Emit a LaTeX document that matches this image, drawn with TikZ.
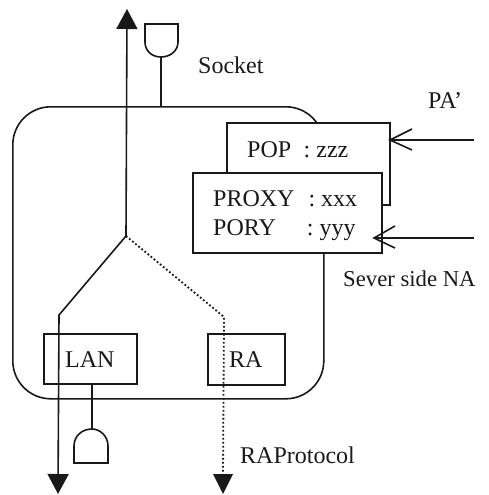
\documentclass[tikz,border=0pt]{standalone}
\usepackage{fontspec}
\setmainfont{Liberation Serif}
\usetikzlibrary{arrows.meta,calc}
\tikzset{
  ln/.style={line width=1.6pt,black!90,line join=miter},
  boxx/.style={ln,draw,fill=white,rectangle,inner sep=0pt},
  lbl/.style={font=\fontsize{24}{24}\selectfont,anchor=base west,inner sep=0pt,text=black!90},
  solidtip/.style={-{Triangle[length=20pt,width=21pt]}},
  dots/.style={line width=1.8pt,black!90,dash pattern=on 1.8pt off 2.2pt}
}
\begin{document}
\begin{tikzpicture}[x=1pt,y=-1pt]
\useasboundingbox (0,0) rectangle (488,495);
% host outline
\node[ln,draw,rectangle,rounded corners=38pt,minimum width=311pt,minimum height=292pt,anchor=north west,inner sep=0pt] (host) at (12,106) {};
% connection boxes
\node[boxx,minimum width=163pt,minimum height=82pt,anchor=north west] (pop) at (226,122) {};
\node[boxx,minimum width=189pt,minimum height=80pt,anchor=north west] (proxy) at (192,172) {};
\node[boxx,minimum width=93pt,minimum height=50pt,anchor=north west] (lan) at (43,333) {};
\node[boxx,minimum width=77pt,minimum height=51pt,anchor=north west] (ra) at (207,333) {};
% labels
\node[lbl] (tsock) at (198,74) {Socket};
\node[lbl] (tpa) at (428,108) {PA’};
\node[lbl] (tpop) at (247,157) {POP\hspace{12.5pt}: zzz};
\node[lbl] (tproxy) at (213,206) {PROXY\hspace{14pt}: xxx};
\node[lbl] (tpory) at (213,235) {PORY\hspace{31pt}: yyy};
\node[lbl,font=\fontsize{22.7}{24}\selectfont] (tsever) at (343,286) {Sever side NA};
\node[lbl] (tlan) at (65,367) {LAN};
\node[lbl] (tra) at (229,367) {RA};
\node[lbl] (trap) at (240,463) {RAProtocol};
% free ends and bends
\coordinate (fork) at (126,236);
\coordinate (top) at (127,9);
\coordinate (lbend) at (59,315);
\coordinate (lend) at (58,494);
\coordinate (rbend) at (224,317);
\coordinate (rbase) at (223,475);
\coordinate (pastart) at (474,140);
\coordinate (pagoal) at (390,140);
\coordinate (nastart) at (474,238);
\coordinate (nagoal) at (374,238);
% signal paths
\draw[ln,solidtip] (fork) -- (top);
\draw[ln,solidtip] (fork) -- (lbend) -- (lend);
\draw[dots] (fork) -- (rbend) -- (rbase);
\fill[black!90] (213,474) -- (233,474) -- (223,494) -- cycle;
\draw[ln] (pastart) -- (pagoal);
\draw[ln] (412,129) -- (pagoal) -- (412,150);
\draw[ln] (nastart) -- (nagoal);
\draw[ln] (395,226) -- (nagoal) -- (395,248);
% upper socket
\coordinate (sockA) at (161,57);
\draw[ln] (sockA) -- (161,106);
\draw[ln] (145,24) -- (178,24) -- (178,42) .. controls (178,51) and (170,57) .. (sockA) .. controls (152,57) and (145,51) .. (145,42) -- cycle;
% lower socket
\coordinate (sockB) at (92,429);
\draw[ln] (sockB |- lan.south) -- (sockB);
\draw[ln] (74,463) -- (108,463) -- (108,446) .. controls (108,436) and (100,429) .. (sockB) .. controls (82,429) and (74,436) .. (74,446) -- cycle;
\end{tikzpicture}
\end{document}
